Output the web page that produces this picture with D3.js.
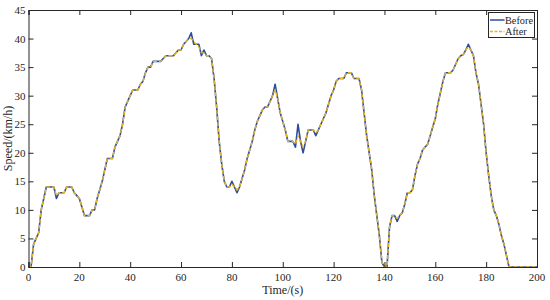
<html>

<head>
	<title>Speed before / after</title>
	<script type="text/javascript" src="https://cdn.jsdelivr.net/npm/d3@7"></script>
	<style>
		body { margin: 0; background: #fff; }
		text { font-family: "Liberation Serif", "Times New Roman", serif; fill: #262626; }
	</style>
</head>

<body>
	<script type="text/javascript">
		// Speed samples, one per second (t = 0 .. 200 s)
		const before = [
			0, 0, 4, 5, 6, 10, 12, 14, 14, 14,
			14, 12, 13, 13, 13, 14, 14, 14, 13, 12.5,
			12, 10.5, 9, 9, 9, 10, 10, 12, 13.5, 15,
			17, 19, 19, 19, 21, 22, 23, 25, 28, 29,
			30, 31, 31, 31, 32, 32.5, 34, 35, 35, 36,
			36, 36, 36, 36.5, 37, 37, 37, 37, 37.5, 38,
			38, 39, 39.5, 40, 41, 39, 39, 39, 37, 38,
			37, 37, 36.5, 33, 28, 22, 18, 15, 14, 14,
			15, 14, 13, 14, 15.5, 17, 19, 20.5, 22, 24,
			25.5, 26.5, 27.5, 28, 28, 29, 30, 32, 29.5, 27,
			25.5, 24, 22, 22, 22, 21, 25, 22, 20, 22,
			24, 24, 24, 23, 24, 25, 26, 27, 28.5, 30,
			31, 32.5, 33, 33, 33, 34, 34, 34, 33, 33,
			33, 31, 27, 23, 20, 17, 12.5, 9, 5.5, 0.8,
			0, 0, 7, 9, 9, 8, 9, 9.5, 11, 13,
			13, 13.5, 16, 18, 19, 20.5, 21, 21.5, 23, 24.5,
			26, 28.5, 30.5, 32.5, 34, 34, 34, 34.5, 35.5, 36.5,
			37, 37.2, 38, 39, 38, 37, 34, 32, 28.5, 25,
			20, 16, 12.5, 10, 9, 7.5, 5.5, 4, 2, 0,
			0, 0, 0, 0, 0, 0, 0, 0, 0, 0,
			0
		];

		const after = [
			0, 0, 4, 5, 6, 10, 12, 14, 14, 14,
			14, 12.5, 13, 13, 13, 14, 14, 14, 13, 12.5,
			12, 10.5, 9, 9, 9, 10, 10, 12, 13.5, 15,
			17, 19, 19, 19, 21, 22, 23, 25, 28, 29,
			30, 31, 31, 31, 32, 32.5, 34, 35, 35, 36,
			36, 36, 36, 36.5, 37, 37, 37, 37, 37.5, 38,
			38, 39, 39.5, 40, 40, 39.5, 39, 38.5, 37.5, 37.5,
			37, 37, 36.5, 33, 28, 22, 18, 15, 14, 14,
			14.5, 14, 13.5, 14, 15.5, 17, 19, 20.5, 22, 24,
			25.5, 26.5, 27.5, 28, 28, 29, 30, 31, 29.5, 27,
			25.5, 24, 22, 22, 22, 21.5, 23, 22, 21, 22,
			24, 24, 24, 23.5, 24, 25, 26, 27, 28.5, 30,
			31, 32.5, 33, 33, 33, 34, 34, 34, 33, 33,
			33, 31, 27, 23, 20, 17, 12.5, 9, 5.5, 0.8,
			0, 0, 7, 9, 9, 8.5, 9, 9.5, 11, 13,
			13, 13.5, 16, 18, 19, 20.5, 21, 21.5, 23, 24.5,
			26, 28.5, 30.5, 32.5, 34, 34, 34, 34.5, 35.5, 36.5,
			37, 37.2, 38, 38.5, 38, 37, 34, 32, 28.5, 25,
			20, 16, 12.5, 10, 9, 7.5, 5.5, 4, 2, 0,
			0, 0, 0, 0, 0, 0, 0, 0, 0, 0,
			0
		];

		const xTicks = [0, 20, 40, 60, 80, 100, 120, 140, 160, 180, 200];
		const yTicks = [0, 5, 10, 15, 20, 25, 30, 35, 40, 45];
		const seriesNames = ["Before", "After"];

		const w = 550;
		const h = 300;
		const mLeft = 28.5, mRight = 537, mTop = 10, mBottom = 267;
		const blue = "#2b4c9f";
		const yellow = "#e8b422";
		const axisColor = "#262626";

		const xScale = d3.scaleLinear().domain([0, 200]).range([mLeft, mRight]);
		const yScale = d3.scaleLinear().domain([0, 45]).range([mBottom, mTop]);

		const svg = d3.select("body")
			.append("svg")
			.attr("width", w)
			.attr("height", h);

		// lines
		const line = d3.line()
			.x(function (d, i) { return xScale(i); })
			.y(function (d) { return yScale(d); });

		const plot = svg.append("g");
		plot.append("path")
			.datum(before)
			.attr("d", line)
			.attr("fill", "none")
			.attr("stroke", blue)
			.attr("stroke-width", 1.6)
			.attr("stroke-linejoin", "round");
		plot.append("path")
			.datum(after)
			.attr("d", line)
			.attr("fill", "none")
			.attr("stroke", yellow)
			.attr("stroke-width", 1.4)
			.attr("stroke-dasharray", "4,2");

		// axes (inward ticks, mirrored like MATLAB)
		const bottomAxis = d3.axisTop(xScale).tickValues(xTicks).tickSize(5).tickFormat("");
		const topAxis = d3.axisBottom(xScale).tickValues(xTicks).tickSize(5).tickFormat("");
		const leftAxis = d3.axisRight(yScale).tickValues(yTicks).tickSize(5).tickFormat("");
		const rightAxis = d3.axisLeft(yScale).tickValues(yTicks).tickSize(5).tickFormat("");

		const axes = svg.append("g");
		axes.append("g").attr("transform", "translate(0," + mBottom + ")").call(bottomAxis);
		axes.append("g").attr("transform", "translate(0," + mTop + ")").call(topAxis);
		axes.append("g").attr("transform", "translate(" + mLeft + ",0)").call(leftAxis);
		axes.append("g").attr("transform", "translate(" + mRight + ",0)").call(rightAxis);
		axes.selectAll("path, line").attr("stroke", axisColor).attr("stroke-width", 1);

		// tick labels
		svg.selectAll(".xlab")
			.data(xTicks)
			.enter()
			.append("text")
			.attr("x", function (d) { return xScale(d); })
			.attr("y", mBottom + 14)
			.attr("text-anchor", "middle")
			.attr("font-size", 11)
			.text(function (d) { return d; });

		svg.selectAll(".ylab")
			.data(yTicks)
			.enter()
			.append("text")
			.attr("x", mLeft - 3)
			.attr("y", function (d) { return yScale(d) + 4; })
			.attr("text-anchor", "end")
			.attr("font-size", 11)
			.text(function (d) { return d; });

		// axis titles
		svg.append("text")
			.attr("x", (mLeft + mRight) / 2)
			.attr("y", 294)
			.attr("text-anchor", "middle")
			.attr("font-size", 12)
			.text("Time/(s)");

		svg.append("text")
			.attr("transform", "translate(12," + ((mTop + mBottom) / 2) + ") rotate(-90)")
			.attr("text-anchor", "middle")
			.attr("font-size", 12)
			.text("Speed/(km/h)");

		// legend
		const legend = svg.append("g").attr("transform", "translate(488.5,12.5)");
		legend.append("rect")
			.attr("width", 46)
			.attr("height", 25)
			.attr("fill", "#fff")
			.attr("stroke", axisColor)
			.attr("stroke-width", 1);
		legend.selectAll(".entry")
			.data(seriesNames)
			.enter()
			.append("line")
			.attr("x1", 1.5)
			.attr("x2", 16)
			.attr("y1", function (d, i) { return 7.5 + i * 11.5; })
			.attr("y2", function (d, i) { return 7.5 + i * 11.5; })
			.attr("stroke", function (d, i) { return i === 0 ? blue : yellow; })
			.attr("stroke-width", 1.5)
			.attr("stroke-dasharray", function (d, i) { return i === 0 ? null : "3,1.5"; });
		legend.selectAll(".ltext")
			.data(seriesNames)
			.enter()
			.append("text")
			.attr("x", 16.5)
			.attr("y", function (d, i) { return 11 + i * 11.5; })
			.attr("font-size", 10.3)
			.text(function (d) { return d; });
	</script>
</body>

</html>
